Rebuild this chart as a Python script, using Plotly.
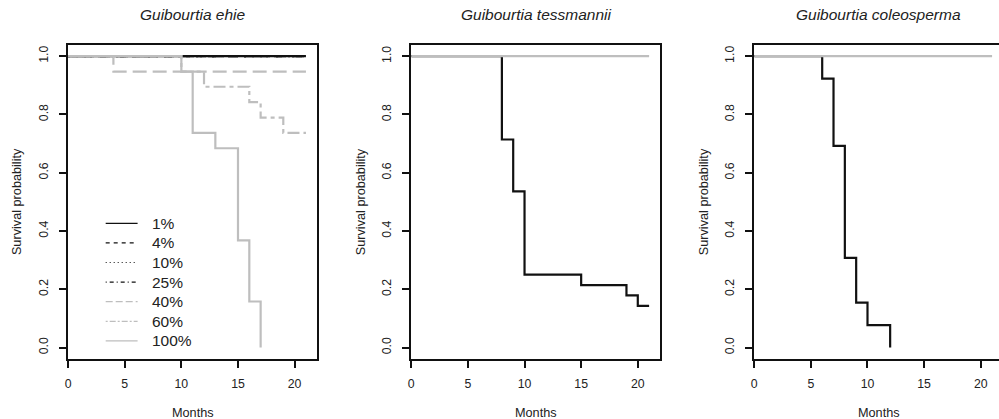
import plotly.graph_objects as go

# ---------------- data ----------------
species = ["Guibourtia ehie", "Guibourtia tessmannii", "Guibourtia coleosperma"]
levels = ["1%", "4%", "10%", "25%", "40%", "60%", "100%"]

month_ticks = [0, 5, 10, 15, 20]
surv_ticks = [0.0, 0.2, 0.4, 0.6, 0.8, 1.0]
surv_tick_text = ["0.0", "0.2", "0.4", "0.6", "0.8", "1.0"]

# Kaplan-Meier step curves: event times (months) and survival after each step
ehie_t_1 = [0, 21]
ehie_s_1 = [1.0, 1.0]
ehie_t_4 = [0, 21]
ehie_s_4 = [1.0, 1.0]
ehie_t_10 = [0, 21]
ehie_s_10 = [1.0, 1.0]
ehie_t_25 = [0, 21]
ehie_s_25 = [1.0, 1.0]
ehie_t_40 = [0, 4, 21]
ehie_s_40 = [1.0, 0.947, 0.947]
ehie_t_60 = [0, 10, 12, 16, 17, 19, 21]
ehie_s_60 = [1.0, 0.947, 0.895, 0.842, 0.789, 0.737, 0.737]
ehie_t_100 = [0, 10, 11, 13, 15, 16, 17]
ehie_s_100 = [1.0, 0.947, 0.737, 0.684, 0.368, 0.158, 0.0]

tess_t_1 = [0, 8, 9, 10, 15, 19, 20, 21]
tess_s_1 = [1.0, 0.714, 0.536, 0.25, 0.214, 0.179, 0.143, 0.143]
tess_t_100 = [0, 21]
tess_s_100 = [1.0, 1.0]

cole_t_1 = [0, 6, 7, 8, 9, 10, 12]
cole_s_1 = [1.0, 0.923, 0.692, 0.308, 0.154, 0.077, 0.0]
cole_t_100 = [0, 21]
cole_s_100 = [1.0, 1.0]

# ---------------- styles ----------------
BLACK = "#111111"
GREY = "#bebebe"
TEXT = "#222222"
FONT = "Liberation Sans, Arial, sans-serif"

level_color = {"1%": BLACK, "4%": BLACK, "10%": BLACK, "25%": BLACK,
               "40%": GREY, "60%": GREY, "100%": GREY}
# R line types: solid, dashed, dotted, dotdash, longdash, twodash
dash_thick = {"1%": "solid", "4%": "8px,8px", "10%": "2px,6px",
              "25%": "2px,6px,8px,6px", "40%": "14px,6px",
              "60%": "4px,4px,12px,4px", "100%": "solid"}
dash_thin = {"1%": "solid", "4%": "4px,4px", "10%": "1px,3px",
             "25%": "1px,3px,4px,3px", "40%": "7px,3px",
             "60%": "2px,2px,6px,2px", "100%": "solid"}

panel_series = [
    [("1%", ehie_t_1, ehie_s_1), ("4%", ehie_t_4, ehie_s_4),
     ("10%", ehie_t_10, ehie_s_10), ("25%", ehie_t_25, ehie_s_25),
     ("40%", ehie_t_40, ehie_s_40), ("60%", ehie_t_60, ehie_s_60),
     ("100%", ehie_t_100, ehie_s_100)],
    [("1%", tess_t_1, tess_s_1), ("100%", tess_t_100, tess_s_100)],
    [("1%", cole_t_1, cole_s_1), ("100%", cole_t_100, cole_s_100)],
]

# ---------------- geometry (pixels) ----------------
W, H = 999, 419
PX_PER_MONTH = 11.36
X_SPAN = 22.0
panel_left = [65.3, 409.5, 753.5]
box_top, box_bottom = 44.5, 359.2
Y_RANGE = [-0.04, 1.04]

fig = go.Figure()
layout = {}
annotations = []
shapes = []

for i, (name, series) in enumerate(zip(species, panel_series)):
    k = "" if i == 0 else str(i + 1)
    left = panel_left[i]
    full_right = left + X_SPAN * PX_PER_MONTH
    right = min(full_right, W)
    x_max = (right - left) / PX_PER_MONTH

    for lvl, t, s in series:
        fig.add_trace(go.Scatter(
            x=t, y=s, mode="lines", line_shape="hv",
            line=dict(color=level_color[lvl], width=2.2, dash=dash_thick[lvl]),
            xaxis="x" + k, yaxis="y" + k, showlegend=False,
            hoverinfo="skip"))

    layout["xaxis" + k] = dict(
        domain=[left / W, right / W], range=[0, x_max], anchor="y" + k,
        tickmode="array", tickvals=month_ticks, ticks="outside", ticklen=7,
        tickwidth=1.5, tickcolor=BLACK, showgrid=False, zeroline=False,
        showline=True, linecolor=BLACK, linewidth=1.8, mirror=True,
        tickfont=dict(family=FONT, size=12.3, color=TEXT),
        ticklabelstandoff=5, fixedrange=True)
    layout["yaxis" + k] = dict(
        domain=[1 - box_bottom / H, 1 - box_top / H], range=Y_RANGE,
        anchor="x" + k, tickmode="array", tickvals=surv_ticks,
        ticktext=surv_tick_text, ticks="outside", ticklen=7, tickwidth=1.5,
        tickcolor=BLACK, tickangle=-90, showgrid=False, zeroline=False,
        showline=True, linecolor=BLACK, linewidth=1.8,
        mirror=(full_right <= W),
        tickfont=dict(family=FONT, size=12.3, color=TEXT),
        ticklabelstandoff=6, fixedrange=True)

    cx = (left + full_right) / 2
    annotations.append(dict(
        text="<i>" + name + "</i>", x=cx / W, y=1 - 14 / H,
        xref="paper", yref="paper", xanchor="center", yanchor="middle",
        showarrow=False, font=dict(family=FONT, size=15.5, color=TEXT)))
    annotations.append(dict(
        text="Months", x=cx / W, y=1 - 412.5 / H, xref="paper", yref="paper",
        xanchor="center", yanchor="middle", showarrow=False,
        font=dict(family=FONT, size=12.7, color=TEXT)))
    annotations.append(dict(
        text="Survival probability", x=(left - 51) / W,
        y=1 - (box_top + box_bottom) / 2 / H, xref="paper", yref="paper",
        xanchor="center", yanchor="middle", textangle=-90, showarrow=False,
        font=dict(family=FONT, size=12.7, color=TEXT)))

# legend for the first panel
leg_x0, leg_x1, leg_text_x = 103, 135, 147
leg_y0, leg_dy = 223.3, 19.6
for j, lvl in enumerate(levels):
    yy = 1 - (leg_y0 + j * leg_dy) / H
    shapes.append(dict(
        type="line", xref="paper", yref="paper", x0=leg_x0 / W, x1=leg_x1 / W,
        y0=yy, y1=yy,
        line=dict(color=level_color[lvl], width=1.2, dash=dash_thin[lvl])))
    annotations.append(dict(
        text=lvl, x=leg_text_x / W, y=yy, xref="paper", yref="paper",
        xanchor="left", yanchor="middle", showarrow=False,
        font=dict(family=FONT, size=15.5, color=TEXT)))

fig.update_layout(
    width=W, height=H, margin=dict(l=0, r=0, t=0, b=0),
    paper_bgcolor="white", plot_bgcolor="white",
    annotations=annotations, shapes=shapes, showlegend=False, **layout)

fig.write_html("out.html")
